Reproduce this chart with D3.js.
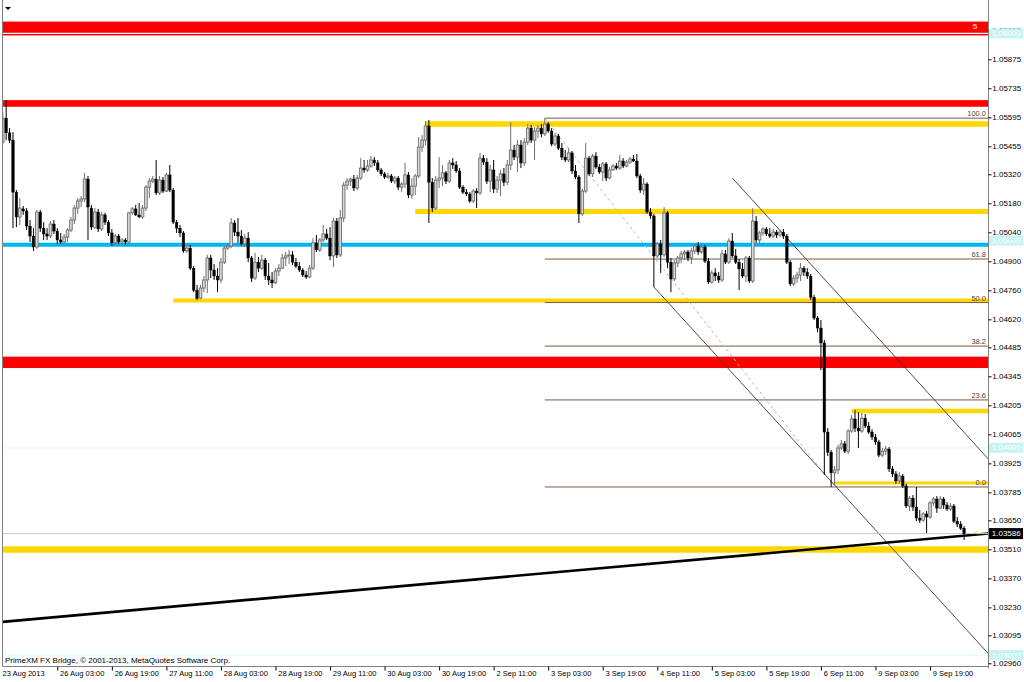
<!DOCTYPE html>
<html><head><meta charset="utf-8">
<script src="https://cdn.jsdelivr.net/npm/d3@7"></script>
<style>
html,body{margin:0;padding:0;background:#fff;}
svg{display:block;font-family:"Liberation Sans",Arial,sans-serif;}
</style></head><body>
<svg id="c" width="1024" height="682"></svg>
<script>
// ---------- DATA (H1 bars) ----------
const open = [
1.05475,1.05591,1.05520,1.05485,1.05234,1.05114,1.05153,1.05143,1.05070,1.05022,
1.04969,1.05138,1.05060,1.05032,1.05022,1.05080,1.05046,1.05003,1.04993,1.05017,
1.05051,1.05099,1.05157,1.05191,1.05201,1.05297,1.05157,1.05065,1.05138,1.05056,
1.05124,1.05089,1.05037,1.04989,1.05022,1.04993,1.05003,1.04993,1.05134,1.05153,
1.05124,1.05114,1.05157,1.05258,1.05287,1.05297,1.05230,1.05292,1.05239,1.05317,
1.05244,1.05089,1.05060,1.05037,1.04950,1.04964,1.04867,1.04761,1.04722,1.04771,
1.04810,1.04916,1.04858,1.04829,1.04810,1.04896,1.04964,1.04974,1.05085,1.05041,
1.05022,1.04984,1.05012,1.04916,1.04819,1.04896,1.04867,1.04906,1.04829,1.04810,
1.04796,1.04853,1.04867,1.04916,1.04926,1.04931,1.04896,1.04877,1.04858,1.04834,
1.04824,1.04867,1.04989,1.04955,1.05003,1.05032,1.05012,1.04926,1.05094,1.04931,
1.05109,1.05268,1.05287,1.05297,1.05254,1.05302,1.05350,1.05341,1.05360,1.05389,
1.05375,1.05341,1.05322,1.05307,1.05312,1.05287,1.05302,1.05258,1.05273,1.05317,
1.05220,1.05263,1.05312,1.05451,1.05485,1.05553,1.05282,1.05157,1.05292,1.05302,
1.05327,1.05287,1.05375,1.05365,1.05336,1.05258,1.05234,1.05225,1.05191,1.05239,
1.05230,1.05398,1.05379,1.05287,1.05341,1.05249,1.05292,1.05322,1.05282,1.05365,
1.05437,1.05403,1.05461,1.05375,1.05475,1.05543,1.05485,1.05529,1.05543,1.05515,
1.05563,1.05529,1.05466,1.05505,1.05446,1.05403,1.05389,1.05423,1.05336,1.05307,
1.05129,1.05239,1.05398,1.05322,1.05408,1.05355,1.05331,1.05370,1.05302,1.05341,
1.05360,1.05350,1.05384,1.05360,1.05379,1.05394,1.05384,1.05312,1.05244,1.05273,
1.05138,1.05119,1.04926,1.04984,1.04931,1.05134,1.04896,1.04815,1.04892,1.04916,
1.04936,1.04945,1.04916,1.04950,1.04974,1.04945,1.04969,1.04901,1.04800,1.04844,
1.04829,1.04810,1.04936,1.04896,1.04998,1.04926,1.04896,1.04863,1.04829,1.04916,
1.04805,1.05094,1.05003,1.05037,1.05056,1.05032,1.05022,1.05041,1.05027,1.05041,
1.05022,1.04896,1.04791,1.04819,1.04834,1.04867,1.04848,1.04829,1.04727,1.04626,
1.04578,1.04506,1.04076,1.03979,1.03879,1.03893,1.03999,1.04019,1.03984,1.04081,
1.04139,1.04095,1.04081,1.04143,1.04105,1.04076,1.04052,1.04028,1.03965,1.03984,
1.03994,1.03898,1.03874,1.03840,1.03864,1.03816,1.03719,1.03757,1.03714,1.03661,
1.03651,1.03681,1.03666,1.03734,1.03753,1.03709,1.03753,1.03724,1.03705,1.03719,
1.03646,1.03632,1.03612];
const high = [
1.05620,1.05678,1.05543,1.05524,1.05244,1.05205,1.05167,1.05157,1.05099,1.05060,
1.05148,1.05148,1.05089,1.05060,1.05094,1.05099,1.05060,1.05037,1.05032,1.05060,
1.05114,1.05172,1.05205,1.05215,1.05327,1.05312,1.05172,1.05157,1.05153,1.05138,
1.05134,1.05099,1.05056,1.05032,1.05032,1.05012,1.05012,1.05138,1.05162,1.05172,
1.05182,1.05172,1.05268,1.05302,1.05312,1.05389,1.05312,1.05307,1.05327,1.05365,
1.05254,1.05099,1.05075,1.05046,1.04979,1.04979,1.04877,1.04786,1.04786,1.04829,
1.04931,1.04931,1.04887,1.04867,1.04916,1.04974,1.04989,1.05109,1.05099,1.05109,
1.05051,1.05032,1.05041,1.04926,1.04941,1.04921,1.04931,1.04916,1.04892,1.04848,
1.04867,1.04887,1.04936,1.04945,1.04955,1.04950,1.04916,1.04896,1.04867,1.04853,
1.04882,1.05012,1.05027,1.05012,1.05075,1.05056,1.05065,1.05109,1.05109,1.05148,
1.05282,1.05302,1.05302,1.05317,1.05317,1.05398,1.05389,1.05389,1.05408,1.05403,
1.05389,1.05350,1.05331,1.05327,1.05322,1.05312,1.05312,1.05282,1.05375,1.05331,
1.05302,1.05322,1.05499,1.05510,1.05577,1.05582,1.05302,1.05312,1.05403,1.05365,
1.05336,1.05389,1.05398,1.05384,1.05350,1.05268,1.05249,1.05234,1.05249,1.05254,
1.05423,1.05413,1.05398,1.05365,1.05389,1.05312,1.05341,1.05350,1.05389,1.05572,
1.05461,1.05485,1.05485,1.05495,1.05563,1.05558,1.05548,1.05558,1.05563,1.05591,
1.05572,1.05543,1.05520,1.05515,1.05471,1.05437,1.05446,1.05432,1.05365,1.05317,
1.05249,1.05471,1.05408,1.05418,1.05427,1.05370,1.05379,1.05379,1.05355,1.05370,
1.05375,1.05413,1.05398,1.05389,1.05403,1.05413,1.05418,1.05322,1.05302,1.05282,
1.05157,1.05129,1.04993,1.05003,1.05162,1.05143,1.04916,1.04906,1.04926,1.04950,
1.04955,1.04955,1.04964,1.04984,1.04993,1.04984,1.04979,1.04916,1.04858,1.04867,
1.04848,1.04955,1.04955,1.05012,1.05037,1.04960,1.04911,1.04892,1.04926,1.04926,
1.05157,1.05119,1.05046,1.05065,1.05065,1.05060,1.05056,1.05051,1.05051,1.05056,
1.05032,1.04906,1.04834,1.04848,1.04892,1.04877,1.04867,1.04839,1.04737,1.04636,
1.04617,1.04520,1.04095,1.03989,1.03912,1.04014,1.04038,1.04033,1.04090,1.04158,
1.04182,1.04172,1.04168,1.04163,1.04124,1.04090,1.04067,1.04038,1.03999,1.04009,
1.04004,1.03912,1.03888,1.03883,1.03874,1.03826,1.03767,1.03772,1.03811,1.03700,
1.03690,1.03695,1.03743,1.03762,1.03767,1.03767,1.03762,1.03738,1.03734,1.03729,
1.03666,1.03646,1.03622];
const low = [
1.05466,1.05485,1.05471,1.05060,1.05065,1.05075,1.05124,1.05051,1.04993,1.04950,
1.04960,1.05041,1.05003,1.05003,1.05012,1.05032,1.04984,1.04984,1.04989,1.04993,
1.05041,1.05080,1.05129,1.05162,1.05186,1.05003,1.05051,1.05056,1.05041,1.05046,
1.05075,1.05022,1.04974,1.04979,1.04984,1.04984,1.04979,1.04984,1.05124,1.05119,
1.05109,1.05105,1.05143,1.05205,1.05278,1.05220,1.05220,1.05230,1.05234,1.05234,
1.05080,1.05037,1.05017,1.04941,1.04941,1.04858,1.04751,1.04713,1.04718,1.04751,
1.04747,1.04819,1.04810,1.04751,1.04796,1.04887,1.04955,1.04964,1.05022,1.04989,
1.04974,1.04969,1.04896,1.04800,1.04810,1.04848,1.04858,1.04810,1.04786,1.04771,
1.04791,1.04829,1.04863,1.04877,1.04887,1.04882,1.04867,1.04848,1.04824,1.04815,
1.04819,1.04858,1.04945,1.04945,1.04993,1.05003,1.04906,1.04872,1.04916,1.04921,
1.05089,1.05244,1.05263,1.05239,1.05244,1.05292,1.05327,1.05331,1.05350,1.05360,
1.05331,1.05312,1.05297,1.05297,1.05278,1.05273,1.05244,1.05234,1.05254,1.05205,
1.05201,1.05220,1.05302,1.05427,1.05461,1.05085,1.05138,1.05148,1.05254,1.05263,
1.05273,1.05278,1.05346,1.05327,1.05249,1.05225,1.05215,1.05182,1.05182,1.05157,
1.05220,1.05365,1.05273,1.05234,1.05230,1.05230,1.05215,1.05263,1.05268,1.05341,
1.05389,1.05331,1.05350,1.05360,1.05461,1.05471,1.05389,1.05495,1.05499,1.05505,
1.05520,1.05456,1.05456,1.05437,1.05389,1.05379,1.05379,1.05322,1.05297,1.05085,
1.05119,1.05230,1.05312,1.05307,1.05346,1.05322,1.05287,1.05287,1.05297,1.05336,
1.05341,1.05341,1.05350,1.05355,1.05370,1.05379,1.05302,1.05230,1.05220,1.05129,
1.05105,1.04776,1.04916,1.04844,1.04921,1.04867,1.04751,1.04805,1.04872,1.04892,
1.04906,1.04901,1.04887,1.04936,1.04931,1.04936,1.04892,1.04791,1.04791,1.04805,
1.04796,1.04800,1.04887,1.04887,1.04916,1.04887,1.04761,1.04819,1.04800,1.04796,
1.04796,1.04989,1.04984,1.05022,1.05022,1.05012,1.05012,1.05012,1.05017,1.05008,
1.04887,1.04781,1.04781,1.04796,1.04805,1.04829,1.04815,1.04713,1.04617,1.04558,
1.04375,1.03869,1.03960,1.03811,1.03821,1.03874,1.03989,1.03975,1.03970,1.04072,
1.04076,1.03999,1.04072,1.04095,1.04067,1.04038,1.04014,1.03955,1.03955,1.03965,
1.03883,1.03859,1.03826,1.03826,1.03806,1.03709,1.03695,1.03695,1.03646,1.03637,
1.03641,1.03589,1.03657,1.03719,1.03686,1.03705,1.03705,1.03695,1.03695,1.03637,
1.03617,1.03603,1.03555];
const close = [
1.05591,1.05520,1.05485,1.05234,1.05114,1.05157,1.05143,1.05070,1.05022,1.04969,
1.05138,1.05060,1.05032,1.05022,1.05080,1.05046,1.05003,1.04993,1.05017,1.05051,
1.05099,1.05157,1.05191,1.05201,1.05297,1.05162,1.05065,1.05138,1.05056,1.05124,
1.05089,1.05037,1.04989,1.05022,1.04993,1.05003,1.04993,1.05134,1.05153,1.05124,
1.05114,1.05157,1.05258,1.05287,1.05297,1.05230,1.05292,1.05239,1.05317,1.05244,
1.05089,1.05060,1.05037,1.04950,1.04964,1.04867,1.04761,1.04722,1.04771,1.04810,
1.04916,1.04858,1.04829,1.04810,1.04896,1.04964,1.04974,1.05085,1.05041,1.05022,
1.04984,1.05012,1.04916,1.04819,1.04896,1.04867,1.04906,1.04829,1.04810,1.04796,
1.04853,1.04867,1.04916,1.04926,1.04931,1.04896,1.04877,1.04858,1.04834,1.04824,
1.04867,1.04989,1.04955,1.05003,1.05032,1.05012,1.04926,1.05094,1.04931,1.05109,
1.05268,1.05287,1.05297,1.05254,1.05302,1.05350,1.05341,1.05360,1.05389,1.05375,
1.05341,1.05322,1.05307,1.05312,1.05287,1.05302,1.05258,1.05273,1.05317,1.05220,
1.05263,1.05312,1.05451,1.05485,1.05553,1.05282,1.05157,1.05292,1.05302,1.05327,
1.05287,1.05375,1.05365,1.05336,1.05258,1.05234,1.05225,1.05191,1.05239,1.05230,
1.05398,1.05379,1.05287,1.05341,1.05249,1.05292,1.05322,1.05282,1.05365,1.05437,
1.05403,1.05461,1.05375,1.05475,1.05543,1.05485,1.05529,1.05543,1.05515,1.05563,
1.05529,1.05466,1.05505,1.05446,1.05403,1.05389,1.05423,1.05336,1.05307,1.05129,
1.05239,1.05398,1.05322,1.05408,1.05355,1.05331,1.05370,1.05302,1.05341,1.05360,
1.05350,1.05384,1.05360,1.05379,1.05394,1.05384,1.05312,1.05244,1.05273,1.05138,
1.05119,1.04926,1.04984,1.04931,1.05134,1.04896,1.04815,1.04892,1.04916,1.04936,
1.04945,1.04916,1.04950,1.04974,1.04945,1.04969,1.04901,1.04800,1.04844,1.04829,
1.04810,1.04936,1.04896,1.04998,1.04926,1.04896,1.04863,1.04829,1.04916,1.04805,
1.05094,1.05003,1.05037,1.05056,1.05032,1.05022,1.05041,1.05027,1.05041,1.05022,
1.04896,1.04791,1.04819,1.04834,1.04867,1.04848,1.04829,1.04727,1.04626,1.04578,
1.04506,1.04076,1.03979,1.03879,1.03893,1.03999,1.04019,1.03984,1.04081,1.04139,
1.04095,1.04081,1.04143,1.04105,1.04076,1.04052,1.04028,1.03965,1.03984,1.03994,
1.03898,1.03874,1.03840,1.03864,1.03816,1.03719,1.03757,1.03714,1.03661,1.03651,
1.03681,1.03666,1.03734,1.03753,1.03709,1.03753,1.03724,1.03705,1.03719,1.03646,
1.03632,1.03612,1.03586];

const timeLabels = ["23 Aug 2013","26 Aug 03:00","26 Aug 19:00","27 Aug 11:00","28 Aug 03:00","28 Aug 19:00",
  "29 Aug 11:00","30 Aug 03:00","30 Aug 19:00","2 Sep 11:00","3 Sep 03:00","3 Sep 19:00","4 Sep 11:00",
  "5 Sep 03:00","5 Sep 19:00","6 Sep 11:00","9 Sep 03:00","9 Sep 19:00"];
const timeTickBar = [0,16,32,48,64,80,96,112,128,144,160,176,192,208,224,240,256,272];
const priceTicks = [1.06015,1.05875,1.05735,1.05595,1.05455,1.05320,1.05180,1.05040,1.04900,1.04760,1.04620,
  1.04485,1.04345,1.04205,1.04065,1.03925,1.03785,1.03650,1.03510,1.03370,1.03230,1.03095,1.02960];
const roundLevels = [1.06000,1.05000,1.04000,1.03000];
const redZones = [[1.06057,1.05990],[1.05678,1.05646],[1.04440,1.04385]];
const redZoneLabels = ["5","",""];
const blueLevel = 1.04980;
const yellowLevels = [1.05563,1.05140,1.04711,1.04178,1.03830,1.03509];
const yellowStartBar = [124,121,50,249,244,0];
const fibHigh = 1.05591, fibHighBar = 159;
const fibLow = 1.03811, fibLowBar = 244;
const fibLevels = [100,61.8,50,38.2,23.6,0];
const channelUpper = [[214,1.05302],[250,1.04652]];
const channelLower = [[191,1.04776],[250,1.03712]];
const trendBlack = [[0,1.03160],[282,1.03576]];
const copyright = "PrimeXM FX Bridge, \u00a9 2001-2013, MetaQuotes Software Corp.";

// ---------- DRAW ----------
const svg = d3.select("#c");
const L = 2.5, R = 988.5, B = 666.5;
const xs = d3.scaleLinear().domain([0, open.length - 1]).range([2.76, 2.76 + 3.409 * (open.length - 1)]);
const y = d3.scaleLinear().domain([1.05875, 1.02960]).range([59.3, 663.3]);

svg.append("rect").attr("width",1024).attr("height",682).attr("fill","#fff");
svg.append("defs").append("clipPath").attr("id","plot")
  .append("rect").attr("x",L).attr("y",0).attr("width",R-L).attr("height",B);
const g = svg.append("g").attr("clip-path","url(#plot)");

function lineAt(a, b, x1, x2) {
  const f = i => a[1] + (b[1]-a[1]) * (i - a[0]) / (b[0]-a[0]);
  return {x1, y1: y(f(xs.invert(x1))), x2, y2: y(f(xs.invert(x2)))};
}
function hline(sel, p, x1, color, w) {
  return sel.append("line").attr("x1",x1).attr("x2",R).attr("y1",y(p)).attr("y2",y(p))
    .attr("stroke",color).attr("stroke-width",w);
}

// red zones
g.selectAll(".rz").data(redZones).join("rect").attr("class","rz")
  .attr("x",L).attr("width",R-L).attr("y",d=>y(d[0])).attr("height",d=>y(d[1])-y(d[0])).attr("fill","#ff0000");
// faint round-number lines
roundLevels.forEach(v => hline(g, v, L, "#e6fbfb", 1.3));
// blue level
hline(g, blueLevel, L, "#00b4ee", 4);
// yellow levels
const yW = [5.5,5,4,4.5,3,6.5];
yellowLevels.forEach((v,k) => hline(g, v, xs(yellowStartBar[k]), "#ffd700", yW[k]));
// fibonacci
const fibP = l => fibLow + (fibHigh - fibLow) * l / 100;
fibLevels.forEach(l => hline(g, fibP(l), xs(fibHighBar), "#7a5a44", 1));
g.append("line").attr("x1",xs(fibHighBar)).attr("y1",y(fibHigh)).attr("x2",xs(fibLowBar)).attr("y2",y(fibLow))
  .attr("stroke","#b8b8b8").attr("stroke-width",1).attr("stroke-dasharray","3,3");
// channel
[channelUpper, channelLower].forEach(c => {
  const ln = lineAt(c[0], c[1], xs(c[0][0]), R);
  g.append("line").attr("x1",ln.x1).attr("y1",ln.y1).attr("x2",ln.x2).attr("y2",ln.y2)
    .attr("stroke","#3a3a3a").attr("stroke-width",0.9);
});
// black trend line
{
  const ln = lineAt(trendBlack[0], trendBlack[1], L, R);
  g.append("line").attr("x1",ln.x1).attr("y1",ln.y1).attr("x2",ln.x2).attr("y2",ln.y2)
    .attr("stroke","#000").attr("stroke-width",2.6);
}
// bid line
const last = close[close.length-1];
hline(g, last, L, "#c8c8c8", 1);

// candles
const bw = 2.6;
const bars = d3.range(open.length).map(i => ({i, o:open[i], h:high[i], l:low[i], c:close[i], up: close[i] > open[i]}));
const cg = svg.append("g").attr("clip-path","url(#plot)");
cg.selectAll(".wk").data(bars).join("line").attr("class","wk")
  .attr("x1",d=>xs(d.i)).attr("x2",d=>xs(d.i)).attr("y1",d=>y(d.h)).attr("y2",d=>y(d.l))
  .attr("stroke",d=>d.up?"#6e6e6e":"#000").attr("stroke-width",1);
cg.selectAll(".bd").data(bars).join("rect").attr("class","bd")
  .attr("x",d=>xs(d.i)-bw/2).attr("width",bw)
  .attr("y",d=>y(Math.max(d.o,d.c)))
  .attr("height",d=>Math.max(Math.abs(y(d.o)-y(d.c)),0.8))
  .attr("fill",d=>d.up?"#d8d8d8":"#000").attr("stroke",d=>d.up?"#6e6e6e":"#000")
  .attr("stroke-width",d=>d.up?0.9:0.4);

// fib labels
fibLevels.forEach(l => svg.append("text").attr("x",986).attr("y",y(fibP(l))-2).attr("text-anchor","end")
  .attr("font-size","7.5px").attr("fill","#5a4030").text(l.toFixed(1)));
// red zone label
redZones.forEach((z,k) => { if (redZoneLabels[k]) svg.append("text").attr("x",975).attr("y",y(z[0])+7.2)
  .attr("text-anchor","middle").attr("font-size","8px").attr("fill","#fff").text(redZoneLabels[k]); });
// arrow marker
svg.append("text").attr("x",974).attr("y",y(last)+1).attr("font-size","7px").attr("fill","#e8c400").text("<--");

// frame
svg.append("line").attr("x1",L).attr("x2",L).attr("y1",0).attr("y2",B).attr("stroke","#808080");
svg.append("line").attr("x1",R).attr("x2",R).attr("y1",0).attr("y2",B+2).attr("stroke","#808080");
svg.append("line").attr("x1",L).attr("x2",R).attr("y1",B).attr("y2",B).attr("stroke","#808080");

// right axis
const ay = svg.append("g").attr("transform",`translate(${R},0)`)
  .call(d3.axisRight(y).tickValues(priceTicks).tickFormat(d3.format(".5f")).tickSize(3).tickPadding(0.8));
ay.select(".domain").remove();
ay.selectAll("text").attr("font-size","8px").attr("font-family","Liberation Sans, Arial, sans-serif").attr("fill","#000");
ay.selectAll("line").attr("stroke","#000");

// round level boxes
roundLevels.forEach(v => {
  svg.append("rect").attr("x",989).attr("y",y(v)-5).attr("width",34).attr("height",10).attr("fill","#c6f4f4");
  svg.append("text").attr("x",991.8).attr("y",y(v)).attr("dy","0.33em").attr("font-size","8px").attr("fill","#fff").text(v.toFixed(5));
});
// current price box
svg.append("rect").attr("x",989).attr("y",y(last)-5.5).attr("width",34).attr("height",11).attr("fill","#000");
svg.append("text").attr("x",991.8).attr("y",y(last)).attr("dy","0.33em").attr("font-size","8px").attr("fill","#fff").text(last.toFixed(5));

// bottom axis
const ax = svg.append("g").attr("transform",`translate(0,${B})`)
  .call(d3.axisBottom(xs).tickValues(timeTickBar).tickFormat((d,k)=>timeLabels[k]).tickSize(4).tickPadding(2));
ax.select(".domain").remove();
ax.selectAll("line").attr("stroke","#000").attr("opacity",(d,k)=>k===0?0:1);
ax.selectAll("text").attr("text-anchor","start").attr("x",(d,k)=>k===0?-0.8:2.3).attr("y",4.5)
  .attr("font-size","7.5px").attr("font-family","Liberation Sans, Arial, sans-serif").attr("fill","#000");

// copyright
svg.append("text").attr("x",5).attr("y",663).attr("font-size","8px").attr("fill","#000").text(copyright);
// dropdown triangle
svg.append("path").attr("d","M5,7 L11,7 L8,10 Z").attr("fill","#000");
</script>
</body></html>
